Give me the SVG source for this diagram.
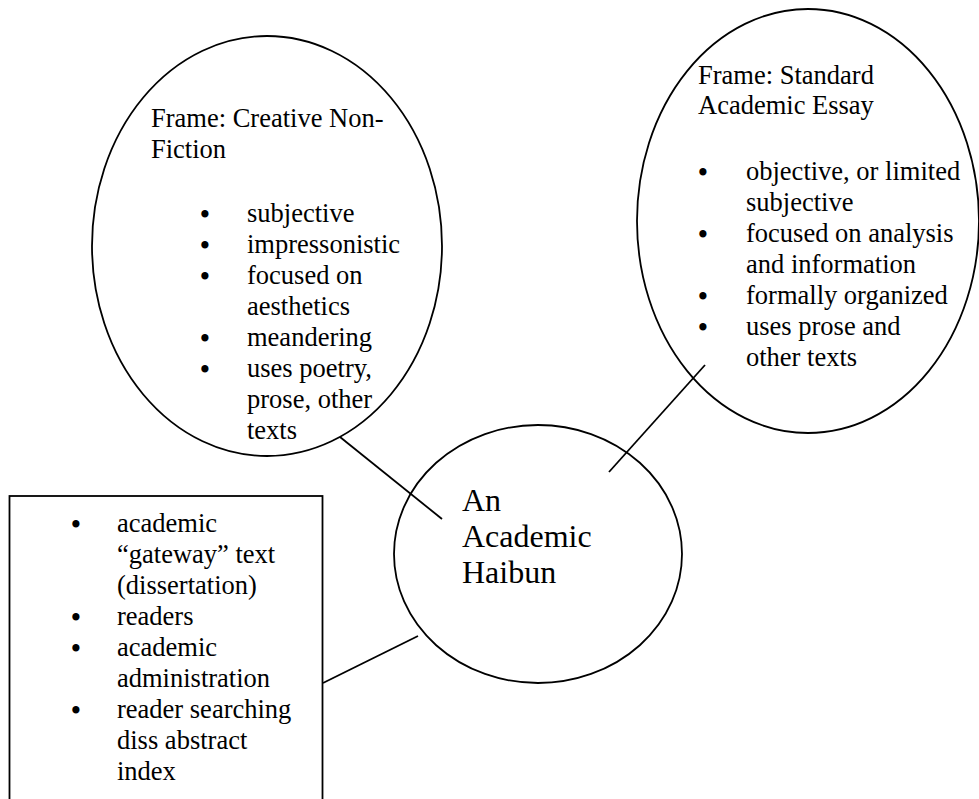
<svg xmlns="http://www.w3.org/2000/svg" width="979" height="799" viewBox="0 0 979 799">
  <style>
    .shape { fill: #fff; stroke: #000; stroke-width: 1.8; }
    .link { stroke: #000; stroke-width: 1.8; fill: none; }
    .t { font-family: "Liberation Serif", "Times New Roman", serif; font-size: 26.5px; fill: #000; }
    .b { font-family: "Liberation Serif", "Times New Roman", serif; font-size: 26.5px; font-weight: bold; fill: #000; text-anchor: middle; }
    .big { font-family: "Liberation Serif", "Times New Roman", serif; font-size: 32px; fill: #000; }
  </style>
  <rect width="979" height="799" fill="#fff"/>

  <!-- Frame: Creative Non-Fiction -->
  <g id="creative-nonfiction">
    <ellipse class="shape" cx="267" cy="246" rx="175" ry="210"/>
    <text class="t" x="151" y="127">Frame: Creative Non-</text>
    <text class="t" x="151" y="158">Fiction</text>
    <text class="b" x="205" y="223">•</text>
    <text class="b" x="205" y="254">•</text>
    <text class="b" x="205" y="285">•</text>
    <text class="b" x="205" y="347">•</text>
    <text class="b" x="205" y="378">•</text>
    <text class="t" x="247" y="222">subjective</text>
    <text class="t" x="247" y="253">impressonistic</text>
    <text class="t" x="247" y="284">focused on</text>
    <text class="t" x="247" y="315">aesthetics</text>
    <text class="t" x="247" y="346">meandering</text>
    <text class="t" x="247" y="377">uses poetry,</text>
    <text class="t" x="247" y="408">prose, other</text>
    <text class="t" x="247" y="439">texts</text>
  </g>

  <!-- Frame: Standard Academic Essay -->
  <g id="standard-essay">
    <ellipse class="shape" cx="808" cy="221" rx="171" ry="212"/>
    <text class="t" x="698" y="84">Frame: Standard</text>
    <text class="t" x="698" y="114">Academic Essay</text>
    <text class="b" x="703" y="181">•</text>
    <text class="b" x="703" y="243">•</text>
    <text class="b" x="703" y="305">•</text>
    <text class="b" x="703" y="336">•</text>
    <text class="t" x="746" y="180">objective, or limited</text>
    <text class="t" x="746" y="211">subjective</text>
    <text class="t" x="746" y="242">focused on analysis</text>
    <text class="t" x="746" y="273">and information</text>
    <text class="t" x="746" y="304">formally organized</text>
    <text class="t" x="746" y="335">uses prose and</text>
    <text class="t" x="746" y="366">other texts</text>
  </g>

  <!-- Audience box -->
  <g id="audience">
    <rect class="shape" x="9.5" y="496" width="313" height="320"/>
    <text class="b" x="76" y="533">•</text>
    <text class="b" x="76" y="626">•</text>
    <text class="b" x="76" y="657">•</text>
    <text class="b" x="76" y="719">•</text>
    <text class="t" x="117" y="532">academic</text>
    <text class="t" x="117" y="563">“gateway” text</text>
    <text class="t" x="117" y="594">(dissertation)</text>
    <text class="t" x="117" y="625">readers</text>
    <text class="t" x="117" y="656">academic</text>
    <text class="t" x="117" y="687">administration</text>
    <text class="t" x="117" y="718">reader searching</text>
    <text class="t" x="117" y="749">diss abstract</text>
    <text class="t" x="117" y="780">index</text>
  </g>

  <!-- Centre node -->
  <g id="haibun">
    <ellipse class="shape" cx="538" cy="554" rx="144" ry="129"/>
    <text class="big" x="462" y="511">An</text>
    <text class="big" x="462" y="547">Academic</text>
    <text class="big" x="462" y="583">Haibun</text>
  </g>

  <!-- Connectors (drawn on top, crossing the outlines) -->
  <g id="connectors">
    <line class="link" x1="340" y1="437" x2="442" y2="519"/>
    <line class="link" x1="705" y1="365" x2="609" y2="472"/>
    <line class="link" x1="323" y1="683" x2="418" y2="636"/>
  </g>
</svg>
